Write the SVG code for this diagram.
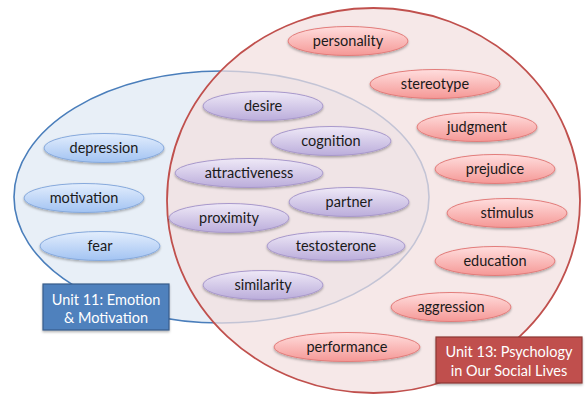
<svg xmlns="http://www.w3.org/2000/svg" width="586" height="396" viewBox="0 0 586 396">
<defs>
<linearGradient id="gBlue" x1="0" y1="0" x2="0" y2="1"><stop offset="0" stop-color="#e3eefd"/><stop offset="1" stop-color="#a2c3f2"/></linearGradient>
<linearGradient id="gPurple" x1="0" y1="0" x2="0" y2="1"><stop offset="0" stop-color="#efe9f7"/><stop offset="1" stop-color="#bbaddb"/></linearGradient>
<linearGradient id="gRed" x1="0" y1="0" x2="0" y2="1"><stop offset="0" stop-color="#ffdede"/><stop offset="1" stop-color="#f59896"/></linearGradient>
<filter id="sh" x="-20%" y="-30%" width="140%" height="180%"><feDropShadow dx="0" dy="1.5" stdDeviation="1" flood-color="#000" flood-opacity="0.3"/></filter>
</defs>
<style>
.pill text, .t { font-family: Lato, "Open Sans", "Liberation Sans", sans-serif; font-size: 14.5px; text-anchor: middle; }
.pill text { fill: #1a1a1a; }
.blue ellipse { fill: url(#gBlue); stroke: #86a9dc; stroke-width: 1; filter: url(#sh); }
.purple ellipse { fill: url(#gPurple); stroke: #a898cb; stroke-width: 1; filter: url(#sh); }
.red ellipse { fill: url(#gRed); stroke: #e27c7a; stroke-width: 1; filter: url(#sh); }
.t { fill: #ffffff; }
</style>
<g id="region-unit11">
<ellipse cx="221.5" cy="197" rx="207.5" ry="126" fill="#e8eff7" stroke="#4a7ebb" stroke-width="1.6"/>
</g>
<g id="region-unit13">
<ellipse cx="373.5" cy="200.5" rx="206.5" ry="192.5" fill="#f2dfdf" fill-opacity="0.72" stroke="#c0504d" stroke-width="1.8"/>
</g>
<g id="connectors"></g>
<g id="depression" class="pill blue"><ellipse cx="104" cy="148" rx="60" ry="14.5"/><text x="104" y="153">depression</text></g>
<g id="motivation" class="pill blue"><ellipse cx="84" cy="198" rx="60" ry="14.5"/><text x="84" y="203">motivation</text></g>
<g id="fear" class="pill blue"><ellipse cx="100" cy="246" rx="60" ry="14.5"/><text x="100" y="251">fear</text></g>
<g id="desire" class="pill purple"><ellipse cx="263" cy="106" rx="60" ry="14.5"/><text x="263" y="111">desire</text></g>
<g id="cognition" class="pill purple"><ellipse cx="331" cy="141" rx="60" ry="14.5"/><text x="331" y="146">cognition</text></g>
<g id="attractiveness" class="pill purple"><ellipse cx="249" cy="173" rx="74" ry="14.5"/><text x="249" y="178">attractiveness</text></g>
<g id="partner" class="pill purple"><ellipse cx="349" cy="202" rx="60" ry="14.5"/><text x="349" y="207">partner</text></g>
<g id="proximity" class="pill purple"><ellipse cx="229" cy="218" rx="60" ry="14.5"/><text x="229" y="223">proximity</text></g>
<g id="testosterone" class="pill purple"><ellipse cx="336" cy="246" rx="69" ry="14.5"/><text x="336" y="251">testosterone</text></g>
<g id="similarity" class="pill purple"><ellipse cx="263" cy="285" rx="60" ry="14.5"/><text x="263" y="290">similarity</text></g>
<g id="personality" class="pill red"><ellipse cx="348" cy="41" rx="60" ry="14.5"/><text x="348" y="46">personality</text></g>
<g id="stereotype" class="pill red"><ellipse cx="435" cy="84" rx="65" ry="14.5"/><text x="435" y="89">stereotype</text></g>
<g id="judgment" class="pill red"><ellipse cx="477" cy="127" rx="60" ry="14.5"/><text x="477" y="132">judgment</text></g>
<g id="prejudice" class="pill red"><ellipse cx="495" cy="169" rx="60" ry="14.5"/><text x="495" y="174">prejudice</text></g>
<g id="stimulus" class="pill red"><ellipse cx="507" cy="213" rx="60" ry="14.5"/><text x="507" y="218">stimulus</text></g>
<g id="education" class="pill red"><ellipse cx="495" cy="261" rx="60" ry="14.5"/><text x="495" y="266">education</text></g>
<g id="aggression" class="pill red"><ellipse cx="451" cy="307" rx="60" ry="14.5"/><text x="451" y="312">aggression</text></g>
<g id="performance" class="pill red"><ellipse cx="347" cy="347" rx="73" ry="14.5"/><text x="347" y="352">performance</text></g>
<g id="label-unit11">
<rect x="43" y="284" width="126" height="46" fill="#4f81bd" stroke="#385d8a" stroke-width="1.2" filter="url(#sh)"/>
<text class="t" x="106" y="305">Unit 11: Emotion</text>
<text class="t" x="106" y="323">&amp; Motivation</text>
</g>
<g id="label-unit13">
<rect x="436" y="337" width="146" height="46" fill="#c0504d" stroke="#8c3836" stroke-width="1.2" filter="url(#sh)"/>
<text class="t" x="509" y="357">Unit 13: Psychology</text>
<text class="t" x="509" y="376">in Our Social Lives</text>
</g>
</svg>
